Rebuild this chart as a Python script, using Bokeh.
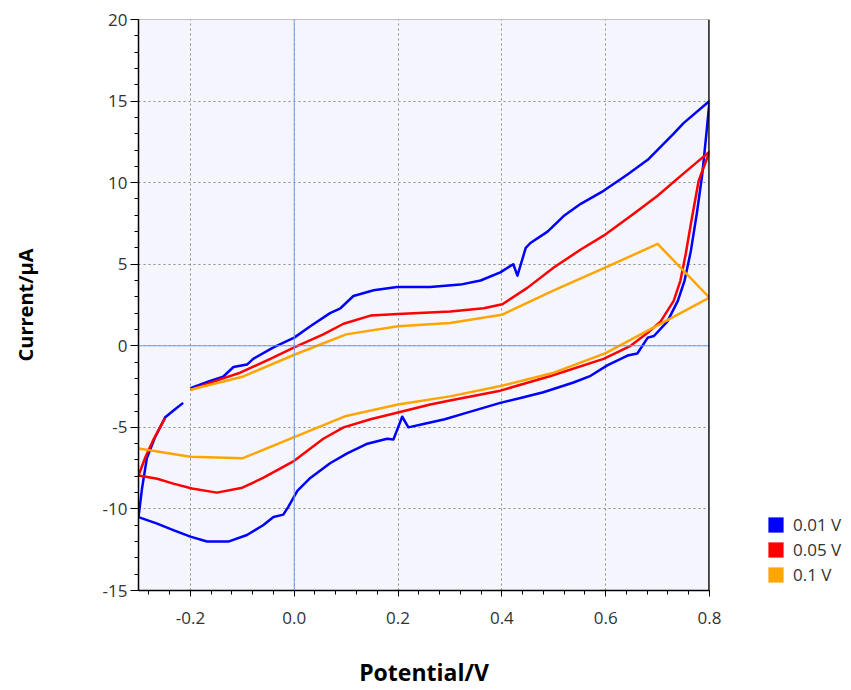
from bokeh.plotting import figure
from bokeh.layouts import row
from bokeh.models import (Range1d, Span, Legend, LegendItem,
                          FixedTicker, SingleIntervalTicker, PrintfTickFormatter)
from bokeh.embed import file_html
from bokeh.resources import INLINE

# ---- data ----
blue_v = [-0.214, -0.232, -0.249, -0.268, -0.284, -0.293, -0.300,
          -0.264, -0.233, -0.200, -0.168, -0.127, -0.091, -0.060, -0.040, -0.021, -0.012,
          0.006, 0.031, 0.069, 0.102, 0.141, 0.179, 0.191, 0.208, 0.220, 0.249, 0.290,
          0.333, 0.397, 0.436, 0.480, 0.538, 0.571, 0.603, 0.642, 0.661, 0.681, 0.693,
          0.719, 0.739, 0.752, 0.764, 0.776, 0.786, 0.794, 0.800,
          0.750, 0.731, 0.681, 0.642, 0.596, 0.552, 0.519, 0.488, 0.455, 0.446, 0.430,
          0.422, 0.397, 0.359, 0.320, 0.262, 0.198, 0.153, 0.114, 0.089, 0.069, 0.031,
          0.000, -0.040, -0.079, -0.091, -0.117, -0.137, -0.162, -0.200]
blue_i = [-3.5, -3.95, -4.4, -5.6, -6.9, -8.7, -10.5,
          -10.9, -11.3, -11.7, -12.0, -12.0, -11.6, -11.0, -10.5, -10.35, -9.9,
          -8.9, -8.1, -7.2, -6.6, -6.0, -5.7, -5.75, -4.35, -5.0, -4.8, -4.5,
          -4.1, -3.5, -3.2, -2.85, -2.25, -1.84, -1.2, -0.6, -0.47, 0.5, 0.6,
          1.5, 2.75, 4.0, 5.8, 8.2, 10.5, 13.0, 15.0,
          13.65, 13.0, 11.4, 10.5, 9.5, 8.7, 7.95, 7.0, 6.3, 6.0, 4.3,
          5.0, 4.5, 4.0, 3.75, 3.6, 3.6, 3.4, 3.05, 2.3, 2.0, 1.2,
          0.5, -0.1, -0.8, -1.15, -1.3, -1.9, -2.15, -2.6]

red_v = [-0.249, -0.272, -0.287, -0.300,
         -0.264, -0.233, -0.197, -0.149, -0.100, -0.060, 0.000, 0.056, 0.095, 0.147,
         0.198, 0.262, 0.300, 0.397, 0.494, 0.596, 0.648, 0.681, 0.706, 0.731, 0.744,
         0.754, 0.764, 0.779, 0.800,
         0.744, 0.700, 0.654, 0.596, 0.552, 0.500, 0.449, 0.401, 0.365, 0.301, 0.200,
         0.147, 0.095, 0.056, 0.000, -0.046, -0.104, -0.137, -0.200]
red_i = [-4.45, -5.8, -6.85, -7.95,
         -8.15, -8.45, -8.75, -9.0, -8.7, -8.1, -7.05, -5.7, -5.0, -4.5,
         -4.1, -3.6, -3.35, -2.75, -1.85, -0.8, 0.0, 0.8, 1.5, 2.75, 4.0,
         5.6, 7.45, 10.1, 11.9,
         10.4, 9.2, 8.1, 6.75, 5.9, 4.8, 3.55, 2.55, 2.3, 2.1, 1.95,
         1.85, 1.35, 0.7, -0.1, -0.8, -1.65, -2.0, -2.7]

orange_v = [-0.3, -0.2, -0.1, 0.0, 0.1, 0.2, 0.3, 0.4, 0.5, 0.6, 0.7, 0.8,
            0.7, 0.6, 0.5, 0.4, 0.3, 0.2, 0.1, 0.0, -0.1, -0.2]
orange_i = [-6.3, -6.8, -6.9, -5.6, -4.3, -3.6, -3.1, -2.45, -1.65, -0.45, 1.25, 2.95,
            6.25, 4.8, 3.4, 1.9, 1.4, 1.2, 0.7, -0.55, -1.9, -2.7]

series_labels = ["0.01 V", "0.05 V", "0.1 V"]
series_colors = ["#0000ff", "#ff0000", "#ffa500"]

x_major = [-0.2, 0.0, 0.2, 0.4, 0.6, 0.8]
x_minor = [round(-0.28 + 0.04 * k, 2) for k in range(28)]

FONT = "Open Sans"
X_START, X_END = -0.3, 0.8
NAN = float("nan")

p = figure(width=740, height=690, x_range=Range1d(X_START, X_END), y_range=Range1d(-15, 20),
           output_backend="svg", toolbar_location=None,
           min_border_left=138, min_border_right=31, min_border_top=19, min_border_bottom=99,
           background_fill_color="#f4f5fd", border_fill_color="white")
p.outline_line_color = "#c0c0c0"
p.outline_line_width = 1

# axes
xa = p.xaxis[0]
xa.ticker = FixedTicker(ticks=x_major, minor_ticks=x_minor)
xa.formatter = PrintfTickFormatter(format="%.1f")
ya = p.yaxis[0]
ya.ticker = SingleIntervalTicker(interval=5, num_minor_ticks=5)
ya.formatter = PrintfTickFormatter(format="%d")
for ax in (xa, ya):
    ax.axis_line_color = "black"
    ax.axis_line_width = 1.5
    ax.major_tick_line_color = "black"
    ax.minor_tick_line_color = "black"
    ax.major_tick_in = 0
    ax.minor_tick_in = 0
    ax.major_label_text_font = FONT
    ax.major_label_text_font_size = "17px"
    ax.major_label_text_color = "#333333"
    ax.axis_label_text_font = FONT
    ax.axis_label_text_font_style = "bold"
    ax.axis_label_text_color = "black"
xa.axis_label_text_font_size = "23px"
ya.axis_label_text_font_size = "20px"
xa.major_tick_out = 6
xa.minor_tick_out = 4
ya.major_tick_out = 8
ya.minor_tick_out = 4
xa.major_label_standoff = 15
ya.major_label_standoff = 3
xa.axis_label = "Potential/V"
ya.axis_label = "Current/\u00b5A"
xa.axis_label_standoff = 29
ya.axis_label_standoff = 61

# grid
for g in (p.xgrid[0], p.ygrid[0]):
    g.grid_line_color = "#8c8c8c"
    g.grid_line_dash = "2 3"
    g.grid_line_width = 1
p.xgrid[0].ticker = FixedTicker(ticks=x_major)

p.add_layout(Span(location=0, dimension="width", line_color="#6f9fe6", line_width=1))
p.add_layout(Span(location=0, dimension="height", line_color="#6f9fe6", line_width=1))
# right frame border
p.add_layout(Span(location=X_END, dimension="height", line_color="black", line_width=2.5))

# curves
data = [(blue_v, blue_i), (red_v, red_i), (orange_v, orange_i)]
for (vx, iy), col in zip(data, series_colors):
    p.line(vx, iy, line_color=col, line_width=2.5, line_join="round")

# legend panel (separate figure to the right, so it is not clipped by the plot frame)
lg = figure(width=111, height=690, x_range=Range1d(0, 1), y_range=Range1d(0, 1),
            output_backend="svg", toolbar_location=None, x_axis_location=None,
            y_axis_location=None, min_border=0, outline_line_color=None,
            background_fill_color="white", border_fill_color="white")
lg.xgrid.visible = False
lg.ygrid.visible = False
items = []
for lab, col in zip(series_labels, series_colors):
    swatch = lg.quad(left=[NAN], right=[NAN], top=[NAN], bottom=[NAN],
                     fill_color=col, line_color=None)
    items.append(LegendItem(label=lab, renderers=[swatch]))

legend = Legend(items=items, location=(26, 4), margin=0, glyph_width=19, glyph_height=19,
                label_height=19, spacing=2, padding=10, label_standoff=8,
                label_text_font=FONT, label_text_font_size="17px", label_text_color="#333333",
                border_line_color=None, background_fill_alpha=0)
lg.add_layout(legend, "center")

layout = row(p, lg, spacing=0)
open("out.html", "w").write(file_html(layout, INLINE))
